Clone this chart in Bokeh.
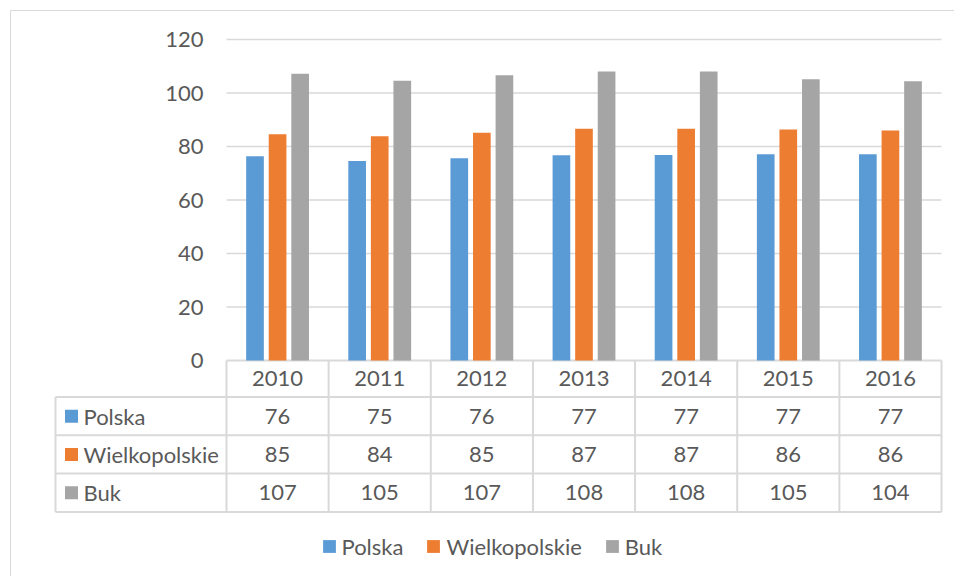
from bokeh.plotting import figure
from bokeh.models import Range1d, Legend, LegendItem, ColumnDataSource
from bokeh.core.properties import value
from bokeh.embed import file_html
from bokeh.resources import INLINE

# ---------------- data ----------------
years = ["2010", "2011", "2012", "2013", "2014", "2015", "2016"]
series = ["Polska", "Wielkopolskie", "Buk"]
polska = [76.4, 74.6, 75.6, 76.7, 76.8, 77.1, 77.1]
wielkopolskie = [84.6, 83.8, 85.1, 86.6, 86.6, 86.4, 86.0]
buk = [107.2, 104.6, 106.6, 108.0, 108.0, 105.1, 104.4]
y_ticks = [0, 20, 40, 60, 80, 100, 120]
colors = ["#5b9bd5", "#ed7d31", "#a5a5a5"]

data = [polska, wielkopolskie, buk]

# ---------------- styling / layout constants (page pixels) ----------------
FONT = "Lato"
FS = "22px"
TXT = "#595959"
GRID = "#d9d9d9"

CX0, CY0 = 0, 0            # canvas top-left on the page
W, H = 954, 576            # canvas size
FR_L, FR_R = 226, 941      # plot area left / right
Y0_PX, Y120_PX = 360, 39   # pixel rows of value 0 and value 120
TBL_T, ROW_H = 396.5, 38.3 # data-table top and row height
TBL_L = 55                 # data-table left edge
n = len(years)
nrows = len(series)
colw = (FR_R - FR_L) / n
ppu = (Y0_PX - Y120_PX) / 120.0


def xpx(px):
    return (px - FR_L) / colw


def vpx(py):
    return (Y0_PX - py) / ppu


def rpx(py):
    return (py - TBL_T) / ROW_H


p = figure(width=W, height=H,
           x_range=Range1d(xpx(CX0), xpx(CX0 + W)),
           y_range=Range1d(vpx(CY0 + H), vpx(CY0)),
           output_backend="svg", toolbar_location=None,
           x_axis_location=None, y_axis_location=None,
           min_border_left=0, min_border_right=0,
           min_border_top=0, min_border_bottom=0)
p.extra_y_ranges = {"rows": Range1d(rpx(CY0 + H), rpx(CY0))}
p.outline_line_color = None
p.xgrid.visible = False
p.ygrid.visible = False
p.background_fill_color = "white"
p.border_fill_color = "white"

# chart-area border (left and top edges)
p.segment(x0=[xpx(10), xpx(10)], y0=[vpx(10), vpx(10)],
          x1=[xpx(10), xpx(CX0 + W)], y1=[vpx(CY0 + H), vpx(10)],
          line_color=GRID, line_width=1)

# horizontal gridlines (value scale)
p.segment(x0=[0] * len(y_ticks), y0=y_ticks, x1=[n] * len(y_ticks), y1=y_ticks,
          line_color=GRID, line_width=[2] + [1.5] * (len(y_ticks) - 1))

# y tick labels
p.text(x=[xpx(203)] * len(y_ticks), y=y_ticks, text=[str(t) for t in y_ticks],
       text_align="right", text_baseline="middle",
       text_font=value(FONT), text_font_size=value(FS), text_color=TXT)

# bars
offsets = [-0.221, 0.0, 0.221]
for k, vals in enumerate(data):
    src = ColumnDataSource(dict(x=[i + 0.5 + offsets[k] for i in range(n)], top=vals))
    p.vbar(x="x", top="top", bottom=0, width=0.173, source=src,
           fill_color=colors[k], line_color=None)

# ---------------- data table (rows scale) ----------------
r_hdr = rpx(Y0_PX)
xL = xpx(TBL_L)
# horizontal lines
p.segment(x0=[xL] * (nrows + 1), y0=list(range(nrows + 1)),
          x1=[n] * (nrows + 1), y1=list(range(nrows + 1)),
          line_color=GRID, line_width=2, y_range_name="rows")
# vertical lines
p.segment(x0=[xL] + list(range(n + 1)), y0=[0] + [r_hdr] * (n + 1),
          x1=[xL] + list(range(n + 1)), y1=[nrows] * (n + 2),
          line_color=GRID, line_width=2, y_range_name="rows")

# header row: years
p.text(x=[i + 0.5 for i in range(n)], y=[r_hdr / 2] * n, text=years,
       text_align="center", text_baseline="middle", y_range_name="rows",
       text_font=value(FONT), text_font_size=value(FS), text_color=TXT)

# value cells
cx, cy, ct = [], [], []
for r, vals in enumerate(data):
    for i, v in enumerate(vals):
        cx.append(i + 0.5)
        cy.append(r + 0.5)
        ct.append(f"{v:.0f}")
p.text(x=cx, y=cy, text=ct, text_align="center", text_baseline="middle",
       y_range_name="rows",
       text_font=value(FONT), text_font_size=value(FS), text_color=TXT)

# row headers with colour keys
p.text(x=[xpx(83)] * nrows, y=[r + 0.5 for r in range(nrows)], text=series,
       text_align="left", text_baseline="middle", y_range_name="rows",
       text_font=value(FONT), text_font_size=value(FS), text_color=TXT)
keys = []
for r in range(nrows):
    kr = p.rect(x=[xpx(71)], y=[r + 0.5], width=13, height=13,
                width_units="screen", height_units="screen",
                fill_color=colors[r], line_color=None, y_range_name="rows")
    keys.append(kr)

# ---------------- legend ----------------
legend = Legend(items=[LegendItem(label=s, renderers=[keys[k]]) for k, s in enumerate(series)],
                orientation="horizontal", location=(320.5 - CX0, CY0 + H - 559.5),
                glyph_width=16, glyph_height=16, label_standoff=5, spacing=22,
                padding=0, margin=0, border_line_color=None, background_fill_alpha=0,
                label_text_font=FONT, label_text_font_size=FS, label_text_color=TXT)
p.add_layout(legend)

open("out.html", "w").write(file_html(p, INLINE))
